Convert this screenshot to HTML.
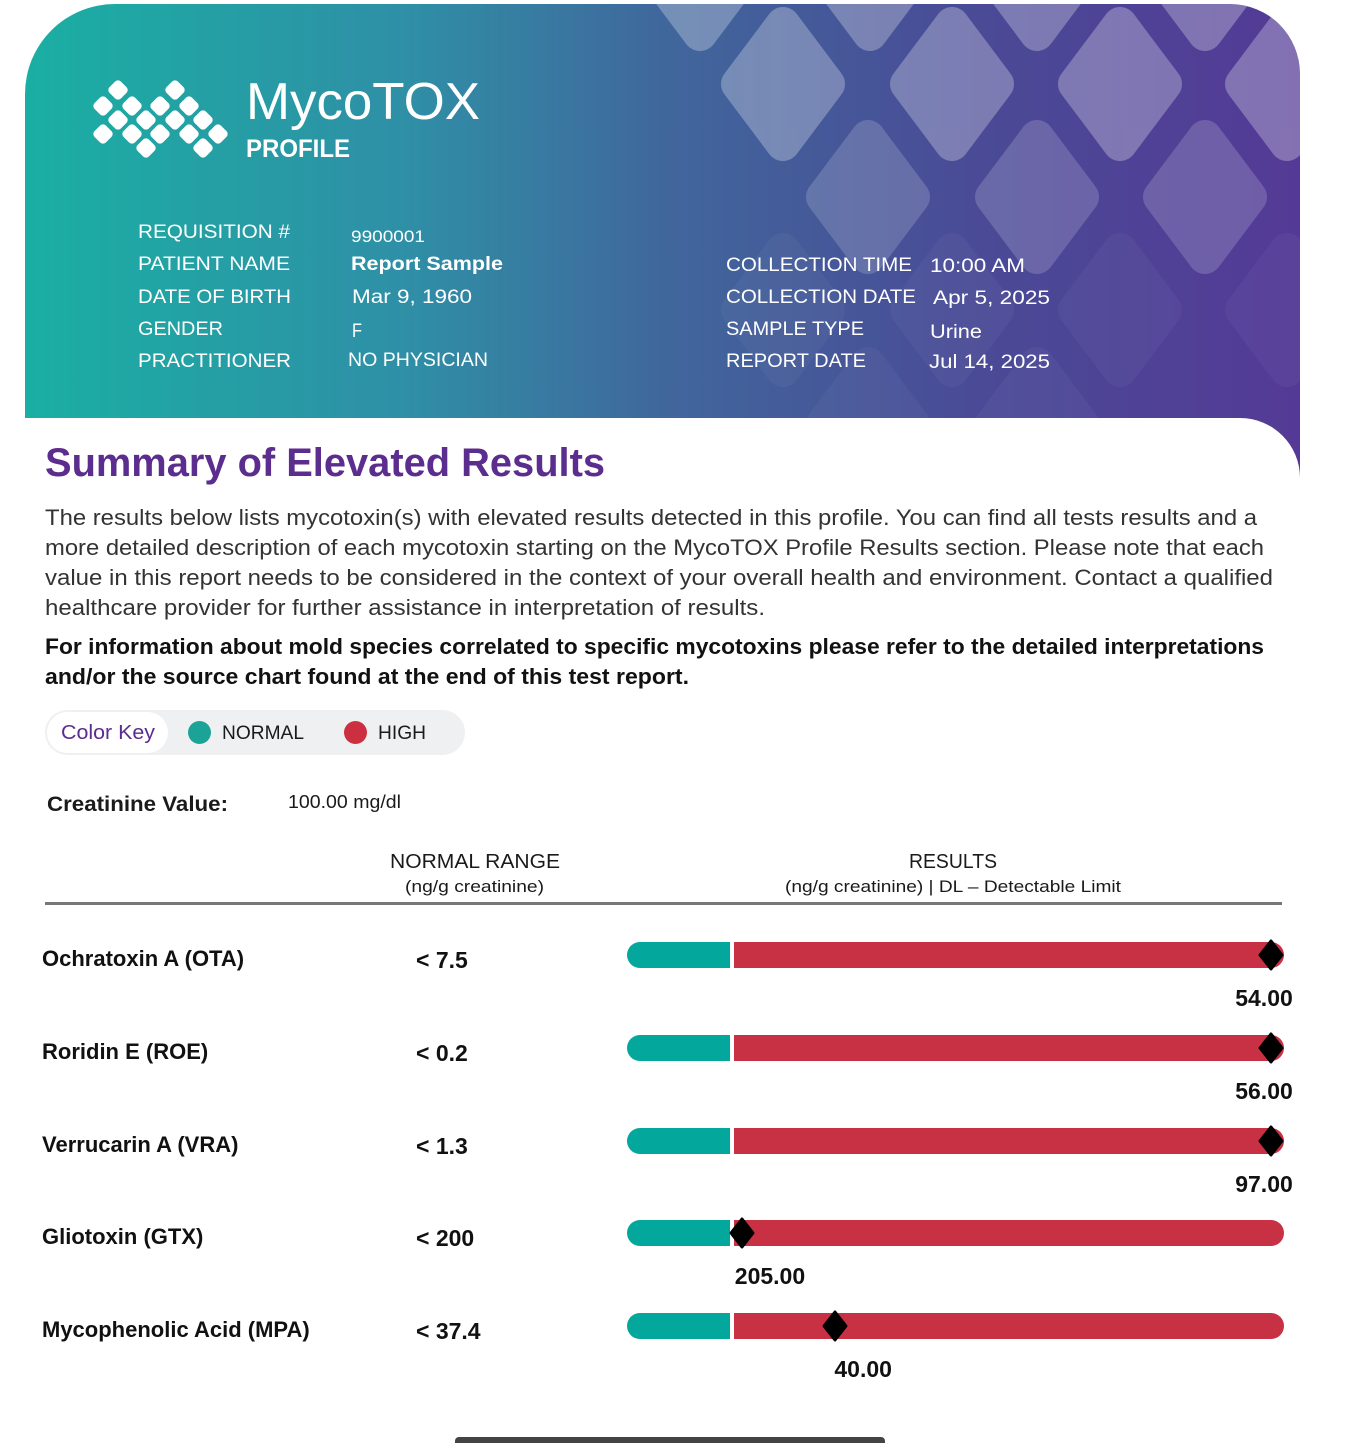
<!DOCTYPE html>
<html><head><meta charset="utf-8">
<style>
*{margin:0;padding:0;box-sizing:border-box}
body{width:1353px;height:1440px;background:#fff;position:relative;overflow:hidden;font-family:"Liberation Sans",sans-serif;color:#1a1a1a}
.abs{position:absolute;white-space:nowrap}
.fit{transform-origin:0 50%;display:inline-block}
.hl{color:#fff;font-size:19px}
.hv{color:#fff;font-size:19px}
.row-name{font-size:22px;font-weight:bold;color:#111}
.row-range{font-size:23px;font-weight:bold;color:#111}
</style></head>
<body>
<div class="abs" style="left:25px;top:4px;width:1275px;height:474px;border-radius:90px 70px 0 0;overflow:hidden;background:linear-gradient(90deg,#1aafa3 0%,#2f8fa6 30%,#40679c 50%,#4a4a96 75%,#543a96 100%)">
<svg width="1275" height="474" style="position:absolute;left:0;top:0">
<g fill="#ffffff" stroke="#ffffff" stroke-linejoin="round" stroke-width="34">
<g opacity="0.28">
<polygon points="675,-90 720,-30 675,30 630,-30"/><polygon points="845,-90 890,-30 845,30 800,-30"/><polygon points="1012,-90 1057,-30 1012,30 967,-30"/><polygon points="1180,-90 1225,-30 1180,30 1135,-30"/>
<polygon points="758,20 803,80 758,140 713,80"/><polygon points="927,20 972,80 927,140 882,80"/><polygon points="1095,20 1140,80 1095,140 1050,80"/><polygon points="1262,20 1307,80 1262,140 1217,80"/>
</g>
<g opacity="0.17">
<polygon points="843,133 888,193 843,253 798,193"/><polygon points="1012,133 1057,193 1012,253 967,193"/><polygon points="1180,133 1225,193 1180,253 1135,193"/>
</g>
<g opacity="0.035">
<polygon points="758,246 803,306 758,366 713,306"/><polygon points="927,246 972,306 927,366 882,306"/><polygon points="1095,246 1140,306 1095,366 1050,306"/><polygon points="1262,246 1307,306 1262,366 1217,306"/>
<polygon points="843,360 888,420 843,480 798,420"/><polygon points="1012,360 1057,420 1012,480 967,420"/>
</g>
</g>
</svg>
</div>
<div class="abs" style="left:0;top:418px;width:1300px;height:1022px;background:#fff;border-top-right-radius:60px"></div>

<svg class="abs" style="left:88px;top:76px" width="145" height="88">
<g fill="#fff">
<rect x="-8" y="-8" width="16" height="16" rx="4" transform="translate(30,14) rotate(45)"/>
<rect x="-8" y="-8" width="16" height="16" rx="4" transform="translate(87,14) rotate(45)"/>
<rect x="-8" y="-8" width="16" height="16" rx="4" transform="translate(15,30) rotate(45)"/>
<rect x="-8" y="-8" width="16" height="16" rx="4" transform="translate(44,30) rotate(45)"/>
<rect x="-8" y="-8" width="16" height="16" rx="4" transform="translate(72,30) rotate(45)"/>
<rect x="-8" y="-8" width="16" height="16" rx="4" transform="translate(101,30) rotate(45)"/>
<rect x="-8" y="-8" width="16" height="16" rx="4" transform="translate(30,44) rotate(45)"/>
<rect x="-8" y="-8" width="16" height="16" rx="4" transform="translate(58,44) rotate(45)"/>
<rect x="-8" y="-8" width="16" height="16" rx="4" transform="translate(87,44) rotate(45)"/>
<rect x="-8" y="-8" width="16" height="16" rx="4" transform="translate(115,44) rotate(45)"/>
<rect x="-8" y="-8" width="16" height="16" rx="4" transform="translate(15,58) rotate(45)"/>
<rect x="-8" y="-8" width="16" height="16" rx="4" transform="translate(44,58) rotate(45)"/>
<rect x="-8" y="-8" width="16" height="16" rx="4" transform="translate(72,58) rotate(45)"/>
<rect x="-8" y="-8" width="16" height="16" rx="4" transform="translate(101,58) rotate(45)"/>
<rect x="-8" y="-8" width="16" height="16" rx="4" transform="translate(130,58) rotate(45)"/>
<rect x="-8" y="-8" width="16" height="16" rx="4" transform="translate(58,72) rotate(45)"/>
<rect x="-8" y="-8" width="16" height="16" rx="4" transform="translate(115,72) rotate(45)"/>
</g></svg>
<div class="abs" style="left:246px;top:72px;color:#fff;font-size:52px;line-height:60px"><span class="fit" data-w="234">MycoTOX</span></div>
<div class="abs" style="left:246px;top:135px;color:#fff;font-size:25px;font-weight:bold"><span class="fit" data-w="104">PROFILE</span></div>

<div>
<div class="abs hl" style="left:138px;top:222px"><span class="fit" data-w="152">REQUISITION #</span></div>
<div class="abs hl" style="left:138px;top:254px"><span class="fit" data-w="152">PATIENT NAME</span></div>
<div class="abs hl" style="left:138px;top:287px"><span class="fit" data-w="153">DATE OF BIRTH</span></div>
<div class="abs hl" style="left:138px;top:319px"><span class="fit" data-w="85">GENDER</span></div>
<div class="abs hl" style="left:138px;top:351px"><span class="fit" data-w="153">PRACTITIONER</span></div>
<div class="abs hv" style="left:351px;top:227px;font-size:17px"><span class="fit" data-w="74">9900001</span></div>
<div class="abs hv" style="left:351px;top:254px;font-weight:bold"><span class="fit" data-w="152">Report Sample</span></div>
<div class="abs hv" style="left:352px;top:287px"><span class="fit" data-w="120">Mar 9, 1960</span></div>
<div class="abs hv" style="left:352px;top:321px"><span class="fit" data-w="10">F</span></div>
<div class="abs hv" style="left:348px;top:350px"><span class="fit" data-w="140">NO PHYSICIAN</span></div>
<div class="abs hl" style="left:726px;top:255px"><span class="fit" data-w="186">COLLECTION TIME</span></div>
<div class="abs hl" style="left:726px;top:287px"><span class="fit" data-w="190">COLLECTION DATE</span></div>
<div class="abs hl" style="left:726px;top:319px"><span class="fit" data-w="138">SAMPLE TYPE</span></div>
<div class="abs hl" style="left:726px;top:351px"><span class="fit" data-w="140">REPORT DATE</span></div>
<div class="abs hv" style="left:930px;top:256px"><span class="fit" data-w="95">10:00 AM</span></div>
<div class="abs hv" style="left:933px;top:288px"><span class="fit" data-w="117">Apr 5, 2025</span></div>
<div class="abs hv" style="left:930px;top:322px"><span class="fit" data-w="52">Urine</span></div>
<div class="abs hv" style="left:929px;top:352px"><span class="fit" data-w="121">Jul 14, 2025</span></div>
</div>

<div class="abs" style="left:45px;top:441px;font-size:40px;font-weight:bold;color:#5b2d8e"><span class="fit" data-w="560">Summary of Elevated Results</span></div>
<div style="color:#333;font-size:22px">
<div class="abs" style="left:45px;top:505px"><span class="fit" data-w="1212">The results below lists mycotoxin(s) with elevated results detected in this profile. You can find all tests results and a</span></div>
<div class="abs" style="left:45px;top:535px"><span class="fit" data-w="1219">more detailed description of each mycotoxin starting on the MycoTOX Profile Results section. Please note that each</span></div>
<div class="abs" style="left:45px;top:565px"><span class="fit" data-w="1228">value in this report needs to be considered in the context of your overall health and environment. Contact a qualified</span></div>
<div class="abs" style="left:45px;top:595px"><span class="fit" data-w="720">healthcare provider for further assistance in interpretation of results.</span></div>
</div>
<div style="color:#111;font-size:22px;font-weight:bold">
<div class="abs" style="left:45px;top:634px"><span class="fit" data-w="1219">For information about mold species correlated to specific mycotoxins please refer to the detailed interpretations</span></div>
<div class="abs" style="left:45px;top:664px"><span class="fit" data-w="644">and/or the source chart found at the end of this test report.</span></div>
</div>

<div class="abs" style="left:45px;top:710px;width:420px;height:45px;border-radius:23px;background:#eff0f2">
<div class="abs" style="left:2px;top:2px;width:121px;height:41px;border-radius:21px;background:#fff;color:#5b2d8e;font-size:20px;line-height:43px;padding-left:14px"><span class="fit" data-w="94">Color Key</span></div>
<div class="abs" style="left:143px;top:11px;width:23px;height:23px;border-radius:50%;background:#1ba398"></div>
<div class="abs" style="left:177px;top:13px;font-size:19px"><span class="fit" data-w="82">NORMAL</span></div>
<div class="abs" style="left:299px;top:11px;width:23px;height:23px;border-radius:50%;background:#cc3040"></div>
<div class="abs" style="left:333px;top:13px;font-size:19px"><span class="fit" data-w="48">HIGH</span></div>
</div>

<div class="abs" style="left:47px;top:793px;font-size:21px;font-weight:bold"><span class="fit" data-w="181">Creatinine Value:</span></div>
<div class="abs" style="left:288px;top:792px;font-size:18px"><span class="fit" data-w="113">100.00 mg/dl</span></div>

<div class="abs" style="left:390px;top:851px;font-size:20px"><span class="fit" data-w="170">NORMAL RANGE</span></div>
<div class="abs" style="left:405px;top:877px;font-size:17px"><span class="fit" data-w="139">(ng/g creatinine)</span></div>
<div class="abs" style="left:909px;top:851px;font-size:20px"><span class="fit" data-w="88">RESULTS</span></div>
<div class="abs" style="left:785px;top:877px;font-size:17px"><span class="fit" data-w="336">(ng/g creatinine) | DL – Detectable Limit</span></div>
<div class="abs" style="left:45px;top:902px;width:1237px;height:3px;background:#777"></div>

<div id="rows"></div>
<div class="abs" style="left:455px;top:1437px;width:430px;height:6px;border-radius:4px 4px 0 0;background:#444"></div>

<script>
var names=["Ochratoxin A (OTA)","Roridin E (ROE)","Verrucarin A (VRA)","Gliotoxin (GTX)","Mycophenolic Acid (MPA)"];
var ranges=["< 7.5","< 0.2","< 1.3","< 200","< 37.4"];
var limits=[7.5,0.2,1.3,200,37.4];
var values=[54.00,56.00,97.00,205.00,40.00];
var scaleMax=[30,10,20,536,51.2];

var root=document.getElementById('rows');
var X0=627,XT=730,XR=734,XE=1284,MK0=734,MK1=1271;
function xScale(i,v){var t=(v-limits[i])/(scaleMax[i]-limits[i]);t=Math.max(0,Math.min(1,t));return MK0+t*(MK1-MK0);}
function mk(tag,css,txt){var e=document.createElement(tag);e.className='abs';e.style.cssText=css;if(txt!==undefined)e.textContent=txt;root.appendChild(e);return e;}
for(var i=0;i<names.length;i++){
  var y=942+i*92.8;
  var n=mk('div','left:42px;top:'+(y+4)+'px;',names[i]);n.className='abs row-name';
  
  
  var r=mk('div','left:416px;top:'+(y+5)+'px;',ranges[i]);r.className='abs row-range';
  
  
  var g=mk('div','left:'+X0+'px;top:'+y+'px;width:'+(XT-X0)+'px;height:26px;background:#04a79c;border-radius:13px 0 0 13px');
  
  
  var h=mk('div','left:'+XR+'px;top:'+y+'px;width:'+(XE-XR)+'px;height:26px;background:#c83043;border-radius:0 13px 13px 0');
  
  
  var mx=xScale(i,values[i]);
  var m=mk('div','left:'+(mx-11)+'px;top:'+(y+2)+'px;width:22px;height:22px;');
  m.innerHTML='<svg width="22" height="22" style="overflow:visible"><polygon points="11,-1 22,13 11,27 0,13" fill="#000" stroke="#000" stroke-width="3" stroke-linejoin="round" transform="translate(0,-2)"/></svg>';
  
  
  var cx=Math.min(mx+28,1264);
  var v=mk('div','left:'+(cx-45)+'px;width:90px;text-align:center;top:'+(y+43)+'px;font-size:23px;font-weight:bold;color:#111',values[i].toFixed(2));
  
  
}
document.querySelectorAll('.fit').forEach(function(e){var w=+e.getAttribute('data-w');var a=e.getBoundingClientRect().width;if(a>0)e.style.transform='scaleX('+(w/a)+')';});
</script>
</body></html>
